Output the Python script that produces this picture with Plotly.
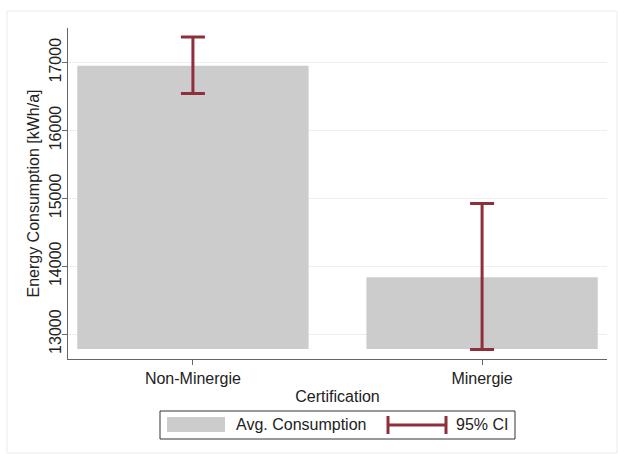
import plotly.graph_objects as go

categories = ["Non-Minergie", "Minergie"]
means = [16955, 13835]
ci_low = [16545, 12772]
ci_high = [17378, 14922]
bar_base = 12780
y_ticks = [13000, 14000, 15000, 16000, 17000]

BAR_COLOR = "#cccccc"
CI_COLOR = "#8f2f3c"
FONT = "Liberation Sans, Arial, sans-serif"

W, H = 618, 454
L, R, T, B = 68, 11, 28, 95
pw, ph = W - L - R, H - T - B

def px(x):
    return (x - L) / pw

def py(y):
    return (H - B - y) / ph

fig = go.Figure()
fig.add_trace(go.Bar(
    x=categories,
    y=[m - bar_base for m in means],
    base=bar_base,
    width=0.8,
    marker=dict(color=BAR_COLOR, line=dict(width=0)),
    name="Avg. Consumption",
    showlegend=False,
))
fig.add_trace(go.Scatter(
    x=categories,
    y=means,
    mode="markers",
    marker=dict(size=1, color="rgba(0,0,0,0)"),
    error_y=dict(
        type="data", symmetric=False,
        array=[h - m for h, m in zip(ci_high, means)],
        arrayminus=[m - l for m, l in zip(means, ci_low)],
        width=12, thickness=3, color=CI_COLOR,
    ),
    name="95% CI",
    showlegend=False,
))

shapes = [
    # outer frame
    dict(type="rect", xref="paper", yref="paper",
         x0=px(7), x1=px(617), y0=py(453), y1=py(11),
         line=dict(color="#ebebeb", width=1), layer="below"),
    # legend box
    dict(type="rect", xref="paper", yref="paper",
         x0=px(160), x1=px(515), y0=py(439), y1=py(411),
         line=dict(color="#333333", width=1), fillcolor="white"),
    dict(type="rect", xref="paper", yref="paper",
         x0=px(167), x1=px(225), y0=py(432), y1=py(417),
         line=dict(width=0), fillcolor=BAR_COLOR),
    dict(type="line", xref="paper", yref="paper",
         x0=px(388), x1=px(446), y0=py(425), y1=py(425),
         line=dict(color=CI_COLOR, width=3)),
    dict(type="line", xref="paper", yref="paper",
         x0=px(388), x1=px(388), y0=py(434), y1=py(416),
         line=dict(color=CI_COLOR, width=3)),
    dict(type="line", xref="paper", yref="paper",
         x0=px(446), x1=px(446), y0=py(434), y1=py(416),
         line=dict(color=CI_COLOR, width=3)),
]

annotations = [
    dict(text="Avg. Consumption", xref="paper", yref="paper",
         x=px(234), y=py(425), xanchor="left", yanchor="middle",
         showarrow=False, font=dict(size=16, color="#222222", family=FONT)),
    dict(text="95% CI", xref="paper", yref="paper",
         x=px(454), y=py(425), xanchor="left", yanchor="middle",
         showarrow=False, font=dict(size=16, color="#222222", family=FONT)),
]

fig.update_layout(
    width=W, height=H,
    margin=dict(l=L, r=R, t=T, b=B),
    paper_bgcolor="white", plot_bgcolor="white",
    font=dict(family=FONT, size=16, color="#222222"),
    shapes=shapes, annotations=annotations,
    showlegend=False,
    xaxis=dict(
        range=[-0.432, 1.432],
        showgrid=False, showline=True, linecolor="#666666", linewidth=1,
        ticks="outside", ticklen=5, tickcolor="#666666",
        tickfont=dict(size=16),
        title=dict(text="Certification", font=dict(size=16), standoff=4),
    ),
    yaxis=dict(
        range=[12632, 17510],
        tickvals=y_ticks, ticktext=[str(v) for v in y_ticks],
        tickangle=-90,
        ticklabelstandoff=-5,
        showgrid=True, gridcolor="#eeeeee", gridwidth=1,
        zeroline=False,
        showline=True, linecolor="#666666", linewidth=1,
        ticks="outside", ticklen=5, tickcolor="#666666",
        tickfont=dict(size=16),
        title=dict(text="Energy Consumption [kWh/a]", font=dict(size=16), standoff=2),
    ),
)

fig.write_html("out.html")
